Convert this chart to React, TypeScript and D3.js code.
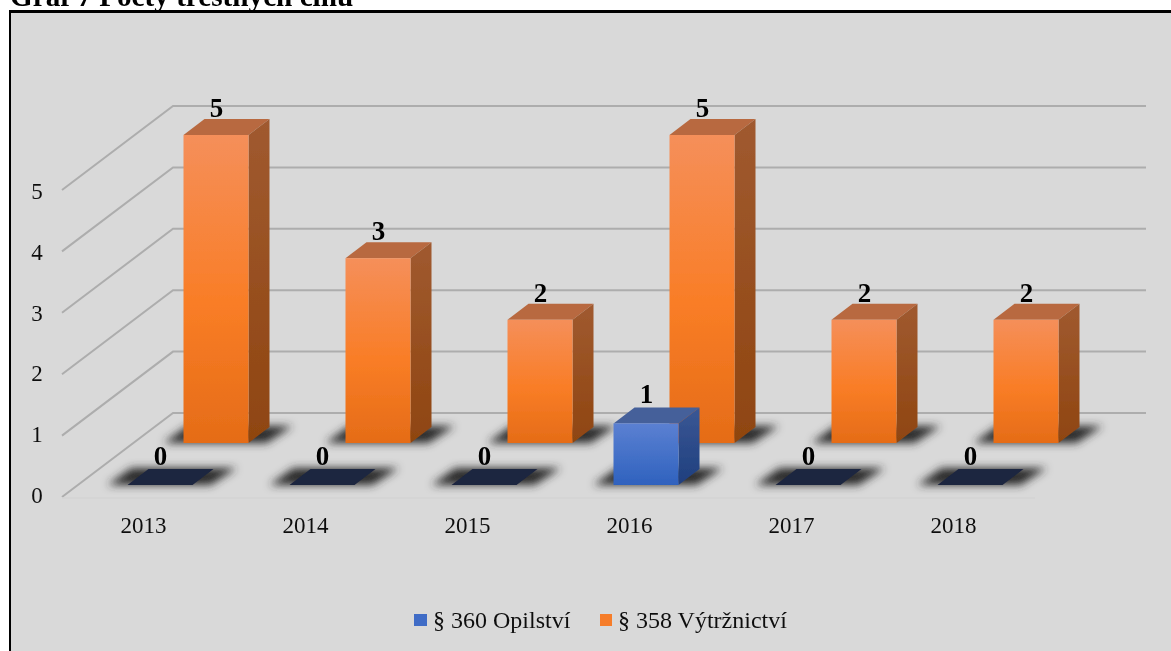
import React from "react";
import * as d3 from "d3";

const years = ["2013", "2014", "2015", "2016", "2017", "2018"];
const opilstvi = [0, 0, 0, 1, 0, 0];
const vytrznictvi = [5, 3, 2, 5, 2, 2];
const yTicks = [0, 1, 2, 3, 4, 5];
const titleText = "Graf 7 Počty trestných činů";
const legendNames = ["§ 360 Opilství", "§ 358 Výtržnictví"];

const FONT = "'Liberation Serif', 'Times New Roman', serif";
const W = 1171, H = 651;
const x = d3.scaleLinear().domain([0, 5]).range([127.5, 937.5]);
const barW = 65;
const dx = 21, dy = -16;
const h = d3.scaleLinear().domain([0, 5]).range([0, 308]);
const backY = d3.scaleLinear().domain([0, 5]).range([413, 106]);
const frontY = d3.scaleLinear().domain([0, 5]).range([497, 190]);
const labelY = d3.scaleLinear().domain([0, 5]).range([503, 199]);
const line = d3.line();

type Pal = { front: string; top: string; side: string };
const orange: Pal = { front: "url(#oF)", top: "#b8693f", side: "url(#oS)" };
const blue: Pal = { front: "url(#bF)", top: "#45609a", side: "url(#bS)" };

function poly(pts: [number, number][]) {
  return line(pts) + "Z";
}

function Bar({ x0, base, v, pal }: { x0: number; base: number; v: number; pal: Pal }) {
  const ht = h(v);
  const top = base - ht;
  const shadow: [number, number][] = [
    [x0 - 20, base], [x0 + barW + 18, base], [x0 + barW + 44, base - 17], [x0 + 4, base - 17],
  ];
  if (v === 0) {
    return (
      <g>
        <path d={poly(shadow)} fill="#2a2a2a" filter="url(#shade)" />
        <path d={poly([[x0, base], [x0 + barW, base], [x0 + barW + dx, base + dy], [x0 + dx, base + dy]])} fill="#1c2540" />
      </g>
    );
  }
  return (
    <g>
      <path d={poly(shadow)} fill="#2a2a2a" filter="url(#shade)" />
      <path d={poly([[x0, top], [x0 + dx, top + dy], [x0 + barW + dx, top + dy], [x0 + barW, top]])} fill={pal.top} />
      <path d={poly([[x0 + barW, top], [x0 + barW + dx, top + dy], [x0 + barW + dx, base + dy], [x0 + barW, base]])} fill={pal.side} />
      <rect x={x0} y={top} width={barW} height={ht} fill={pal.front} />
    </g>
  );
}

export default function App() {
  const orangeBase = 443, blueBase = 485, orangeShift = 56;
  return (
    <svg width={W} height={H} viewBox={`0 0 ${W} ${H}`} style={{ position: "absolute", left: 0, top: 0, background: "#fff" }} fontFamily={FONT}>
      <defs>
        <linearGradient id="oF" x1="0" y1="0" x2="0" y2="1">
          <stop offset="0" stopColor="#f58f5a" />
          <stop offset="0.55" stopColor="#f97d26" />
          <stop offset="1" stopColor="#e56c17" />
        </linearGradient>
        <linearGradient id="oS" x1="0" y1="0" x2="0" y2="1">
          <stop offset="0" stopColor="#a05a30" />
          <stop offset="1" stopColor="#8f4510" />
        </linearGradient>
        <linearGradient id="bF" x1="0" y1="0" x2="0" y2="1">
          <stop offset="0" stopColor="#5b80d2" />
          <stop offset="1" stopColor="#2f62be" />
        </linearGradient>
        <linearGradient id="bS" x1="0" y1="0" x2="0" y2="1">
          <stop offset="0" stopColor="#3a5795" />
          <stop offset="1" stopColor="#1f3f7e" />
        </linearGradient>
        <filter id="shade" x="-30%" y="-80%" width="160%" height="260%">
          <feGaussianBlur stdDeviation="4.5" />
        </filter>
        <filter id="soft" x="0" y="0" width="100%" height="100%">
          <feGaussianBlur stdDeviation="0.45" />
        </filter>
      </defs>

      <rect x={0} y={0} width={W} height={H} fill="#fff" />
      <g filter="url(#soft)">
        <rect x={9.5} y={11.5} width={W + 20} height={H + 20} fill="#d9d9d9" stroke="#000" strokeWidth={3} />
        <text x={10} y={5.5} fontSize={29.2} fontWeight="bold" fill="#000">{titleText}</text>

        {yTicks.map((t) => (
          <g key={t}>
            <path
              d={line([[62, frontY(t)], [173, backY(t)], [1146, backY(t)]]) ?? ""}
              fill="none"
              stroke="#adadad"
              strokeWidth={2}
            />
            <text x={37} y={labelY(t)} fontSize={23} textAnchor="middle" fill="#111">{t}</text>
          </g>
        ))}
        <line x1={62} y1={498} x2={1035} y2={498} stroke="#d3d3d3" strokeWidth={1.5} />

        {vytrznictvi.map((v, i) => (
          <Bar key={i} x0={x(i) + orangeShift} base={orangeBase} v={v} pal={orange} />
        ))}
        {opilstvi.map((v, i) => (
          <Bar key={i} x0={x(i)} base={blueBase} v={v} pal={blue} />
        ))}

        {vytrznictvi.map((v, i) => (
          <text key={i} x={x(i) + orangeShift + 33} y={orangeBase - h(v) - 18} fontSize={27} fontWeight="bold" textAnchor="middle" fill="#000">{v}</text>
        ))}
        {opilstvi.map((v, i) => (
          <text key={i} x={x(i) + 33} y={blueBase - h(v) - 20} fontSize={27} fontWeight="bold" textAnchor="middle" fill="#000">{v}</text>
        ))}

        {years.map((y, i) => (
          <text key={y} x={x(i) + 16} y={533} fontSize={23} textAnchor="middle" fill="#111">{y}</text>
        ))}

        <rect x={414} y={614} width={13} height={12} fill="#3f6cc6" />
        <text x={433} y={628} fontSize={24} fill="#111">{legendNames[0]}</text>
        <rect x={600} y={614} width={12} height={12} fill="#f67d2c" />
        <text x={618} y={628} fontSize={24} fill="#111">{legendNames[1]}</text>
      </g>
    </svg>
  );
}
